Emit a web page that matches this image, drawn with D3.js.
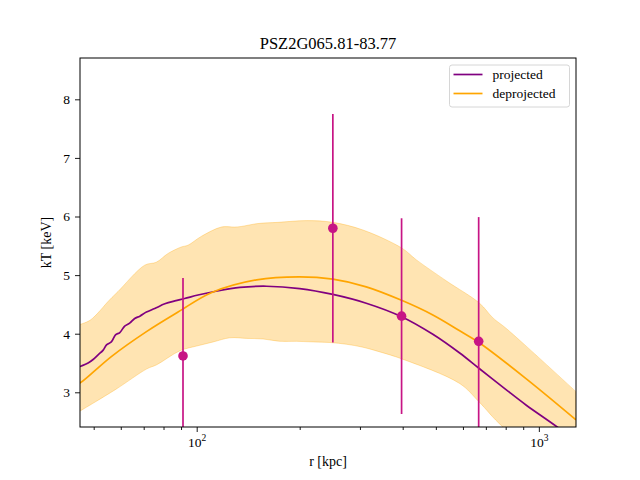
<!DOCTYPE html>
<html>
<head>
<meta charset="utf-8">
<script src="https://cdn.jsdelivr.net/npm/d3@7"></script>
<style>
  body { margin: 0; background: #fff; }
  text { font-family: "Liberation Serif", "DejaVu Serif", serif; fill: #000; }
</style>
</head>
<body>
<svg id="chart"></svg>
<script>
"use strict";

// measured points with symmetric errors
const obsR = [91.2, 250, 397, 667];
const obsT = [3.62, 5.80, 4.30, 3.87];
const obsErr = [1.33, 1.95, 1.67, 2.12];

// projected profile (purple)
const projR = [45, 46.05, 48.15, 49.8, 51.5, 53.3, 54.5, 56.3, 57.9, 59.6, 61.6, 63.7, 65.9, 68.2, 71.3,
  75.4, 80.7, 86.3, 92.2, 100.9, 112.9, 133.8, 160, 200, 250, 313, 397, 490, 587, 668, 800, 919, 1149, 1300];
const projT = [3.43, 3.45, 3.50, 3.56, 3.64, 3.72, 3.81, 3.86, 3.98, 4.02, 4.13, 4.18, 4.26, 4.30, 4.37,
  4.43, 4.51, 4.56, 4.60, 4.66, 4.72, 4.79, 4.81, 4.77, 4.67, 4.52, 4.29, 3.99, 3.67, 3.41, 3.05, 2.78, 2.38, 2.13];

// deprojected profile (orange) and its band
const deprR = [45, 45.9, 56.3, 71.5, 88.2, 110.3, 149.7, 200, 250, 313, 397, 490, 587, 668, 919, 1284];
const deprT = [3.15, 3.17, 3.61, 4.04, 4.37, 4.70, 4.92, 4.97, 4.93, 4.80, 4.57, 4.32, 4.05, 3.85, 3.23, 2.53];

const bandUpR = [45, 48.8, 55.7, 58.9, 70.5, 76.2, 82.5, 90.2, 94.3, 103.1, 118, 129.1, 134.9, 151, 172.7,
  209.5, 250, 306, 398, 438.6, 537, 671, 734, 803, 1284];
const bandUp = [4.15, 4.23, 4.58, 4.72, 5.17, 5.22, 5.37, 5.48, 5.51, 5.66, 5.82, 5.82, 5.83, 5.88, 5.90,
  5.93, 5.90, 5.77, 5.46, 5.26, 4.90, 4.52, 4.27, 4.09, 3.01];
const bandLoR = [45, 58, 71.5, 76.4, 89.4, 100, 111.8, 125, 140, 156.4, 175, 195.8, 219, 245, 274,
  306, 343, 398, 587, 668, 785, 1284];
const bandLo = [2.66, 3.05, 3.40, 3.47, 3.71, 3.79, 3.86, 3.93, 3.92, 3.91, 3.87, 3.87, 3.86, 3.85, 3.82,
  3.77, 3.69, 3.57, 3.15, 2.84, 2.41, 1.50];

const yTicks = [3, 4, 5, 6, 7, 8];
const xMajor = [100, 1000];
const xMinor = [50, 60, 70, 80, 90, 200, 300, 400, 500, 600, 700, 800, 900];

const seriesNames = ["projected", "deprojected"];
const seriesColors = ["purple", "orange"];

const svgWidth = 640, svgHeight = 480;
const margin = { top: 58, right: 64, bottom: 53, left: 80 };
const width = svgWidth - margin.left - margin.right;
const height = svgHeight - margin.top - margin.bottom;

const root = d3.select("#chart").attr("width", svgWidth).attr("height", svgHeight);
const svg = root.append("g").attr("transform", `translate(${margin.left},${margin.top})`);

const xScale = d3.scaleLog().domain([45.6, 1284]).range([0, width]);
const yScale = d3.scaleLinear().domain([2.408, 8.705]).range([height, 0]);

root.append("defs").append("clipPath").attr("id", "plot")
  .append("rect").attr("width", width).attr("height", height);

const plot = svg.append("g").attr("clip-path", "url(#plot)");

const line = d3.line()
  .x(d => xScale(d[0])).y(d => yScale(d[1]))
  .curve(d3.curveCatmullRom.alpha(0.5));

// uncertainty band: upper edge forward, lower edge backward
const upperPts = bandUpR.map((r, i) => [r, bandUp[i]]);
const lowerPts = bandLoR.map((r, i) => [r, bandLo[i]]).reverse();
plot.append("path")
  .attr("d", line(upperPts) + "L" + line(lowerPts).slice(1) + "Z")
  .attr("fill", "orange").attr("fill-opacity", 0.3)
  .attr("stroke", "orange").attr("stroke-opacity", 0.3).attr("stroke-width", 1);

plot.append("path")
  .attr("d", line(projR.map((r, i) => [r, projT[i]])))
  .attr("fill", "none").attr("stroke", "purple").attr("stroke-width", 1.7);

plot.append("path")
  .attr("d", line(deprR.map((r, i) => [r, deprT[i]])))
  .attr("fill", "none").attr("stroke", "orange").attr("stroke-width", 1.7);

// error bars
plot.selectAll(".err").data(obsR).enter().append("line")
  .attr("x1", d => xScale(d)).attr("x2", d => xScale(d))
  .attr("y1", (d, i) => yScale(obsT[i] - obsErr[i]))
  .attr("y2", (d, i) => yScale(obsT[i] + obsErr[i]))
  .attr("stroke", "mediumvioletred").attr("stroke-width", 1.7);

plot.selectAll(".pt").data(obsR).enter().append("circle")
  .attr("cx", d => xScale(d)).attr("cy", (d, i) => yScale(obsT[i]))
  .attr("r", 4.8).attr("fill", "mediumvioletred");

// axes
const yAxis = svg.append("g")
  .call(d3.axisLeft(yScale).tickValues(yTicks).tickSize(5).tickPadding(5).tickFormat(d3.format("d")));
yAxis.selectAll("text").style("font-size", "13.5px")
  .style("font-family", "'Liberation Serif', serif");

const xMinorAxis = svg.append("g").attr("transform", `translate(0,${height})`)
  .call(d3.axisBottom(xScale).tickValues(xMinor).tickSize(3).tickFormat(""));

const xAxis = svg.append("g").attr("transform", `translate(0,${height})`)
  .call(d3.axisBottom(xScale).tickValues(xMajor).tickSize(5).tickPadding(6).tickFormat(""));
xAxis.selectAll(".tick").append("text")
  .attr("y", 20).attr("text-anchor", "middle").style("font-size", "13.5px")
  .each(function(d) {
    const t = d3.select(this);
    t.append("tspan").text("10");
    t.append("tspan").attr("dy", -6).style("font-size", "9.5px").text(String(Math.round(Math.log10(d))));
  });

[yAxis, xMinorAxis, xAxis].forEach(a => {
  a.select(".domain").remove();
  a.selectAll("line").attr("stroke", "#000").attr("stroke-width", 0.9);
});

// frame
svg.append("rect").attr("width", width).attr("height", height)
  .attr("fill", "none").attr("stroke", "#000").attr("stroke-width", 1);

// labels
svg.append("text")
  .attr("x", width / 2).attr("y", height + 39)
  .attr("text-anchor", "middle").style("font-size", "14px")
  .text("r [kpc]");

svg.append("text")
  .attr("transform", "rotate(-90)")
  .attr("x", -height / 2).attr("y", -29)
  .attr("text-anchor", "middle").style("font-size", "14px")
  .text("kT [keV]");

svg.append("text")
  .attr("x", width / 2).attr("y", -9.5)
  .attr("text-anchor", "middle").style("font-size", "16.5px")
  .text("PSZ2G065.81-83.77");

// legend
const legend = svg.append("g").attr("transform", `translate(${449.5 - margin.left},${65 - margin.top})`);
legend.append("rect")
  .attr("width", 120).attr("height", 42).attr("rx", 2.5)
  .attr("fill", "#fff").attr("fill-opacity", 0.8)
  .attr("stroke", "#d6d6d6").attr("stroke-width", 1);

const item = legend.selectAll(".item").data(seriesNames).enter().append("g")
  .attr("transform", (d, i) => `translate(0,${9.5 + i * 19})`);
item.append("line")
  .attr("x1", 4).attr("x2", 33)
  .attr("stroke", (d, i) => seriesColors[i]).attr("stroke-width", 1.7);
item.append("text")
  .attr("x", 43).attr("y", 4.5).style("font-size", "13.5px")
  .text(d => d);
</script>
</body>
</html>
